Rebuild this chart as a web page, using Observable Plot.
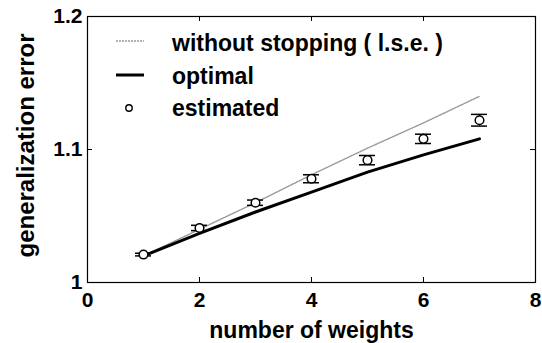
<!DOCTYPE html>
<html><head><meta charset="utf-8">
<script src="https://cdn.jsdelivr.net/npm/d3@7"></script>
<script src="https://cdn.jsdelivr.net/npm/@observablehq/plot@0.6"></script>
<style>body{margin:0;background:#fff}</style>
</head><body><div id="chart"></div>
<script>
const weights = [1, 2, 3, 4, 5, 6, 7];
const withoutStopping = [1.020, 1.040, 1.060, 1.081, 1.101, 1.120, 1.140];
const optimal = [1.020, 1.037, 1.053, 1.068, 1.083, 1.096, 1.108];
const estimated = [1.021, 1.041, 1.060, 1.078, 1.092, 1.108, 1.122];
const estimatedErr = [0.001, 0.002, 0.002, 0.003, 0.0035, 0.0035, 0.0044];
const xTicks = [0, 2, 4, 6, 8];
const yTicks = [1, 1.1, 1.2];
const yTickLabels = ["1", "1.1", "1.2"];
const seriesNames = ["without stopping ( l.s.e. )", "optimal", "estimated"];
const xLabel = "number of weights";
const yLabel = "generalization error";

const rows = weights.map((w, i) => ({
  w, ws: withoutStopping[i], opt: optimal[i], est: estimated[i],
  lo: estimated[i] - estimatedErr[i], hi: estimated[i] + estimatedErr[i]
}));

const GRAY = "#9a9a9a";
const innerTicksX = xTicks.filter(t => t > 0 && t < 8);
const innerTicksY = yTicks.filter(t => t > 1 && t < 1.2);

function legendMark(index, scales, values, dims) {
  const g = d3.create("svg:g");
  const L = dims.marginLeft, T = dims.marginTop;
  const rowsY = [27, 60, 92];
  g.append("line").attr("x1", L + 29).attr("x2", L + 57).attr("y1", T + 25).attr("y2", T + 25)
    .attr("stroke", GRAY).attr("stroke-width", 1.6).attr("stroke-dasharray", "2,1");
  g.append("line").attr("x1", L + 29).attr("x2", L + 57).attr("y1", T + 59).attr("y2", T + 59)
    .attr("stroke", "black").attr("stroke-width", 3);
  g.append("circle").attr("cx", L + 42).attr("cy", T + 92).attr("r", 3.2)
    .attr("fill", "white").attr("stroke", "black").attr("stroke-width", 1.4);
  seriesNames.forEach((name, i) => {
    g.append("text").attr("x", L + 85).attr("y", T + rowsY[i] + 8)
      .attr("text-anchor", "start")
      .attr("font-size", 23).attr("font-weight", "bold").attr("fill", "black").text(name);
  });
  return g.node();
}

const chart = Plot.plot({
  width: 542,
  height: 343,
  marginLeft: 87,
  marginRight: 7,
  marginTop: 16,
  marginBottom: 61,
  style: {fontFamily: "'Liberation Sans', Arial, Helvetica, sans-serif", fontWeight: "bold", fontSize: "21px", background: "white", color: "black"},
  x: {domain: [0, 8]},
  y: {domain: [1, 1.2]},
  marks: [
    Plot.frame({stroke: "black", strokeWidth: 1.2}),
    Plot.ruleX(innerTicksX, {x: d => d, insetTop: 261, stroke: "black", strokeWidth: 1}),
    Plot.ruleX(innerTicksX, {x: d => d, insetBottom: 261, stroke: "black", strokeWidth: 1}),
    Plot.ruleY(innerTicksY, {y: d => d, insetRight: 443, stroke: "black", strokeWidth: 1}),
    Plot.ruleY(innerTicksY, {y: d => d, insetLeft: 443, stroke: "black", strokeWidth: 1}),
    Plot.axisX(xTicks, {tickSize: 0, tickPadding: 10, fontSize: 21, label: null, tickFormat: d => String(d)}),
    Plot.axisY(yTicks, {tickSize: 0, tickPadding: 5, fontSize: 21, label: null, tickFormat: d => yTickLabels[yTicks.indexOf(d)]}),
    Plot.text([xLabel], {frameAnchor: "bottom", dy: 55, lineAnchor: "bottom", textAnchor: "middle", fontSize: 23, fontWeight: "bold"}),
    Plot.text([yLabel], {frameAnchor: "left", dx: -54, dy: -4, rotate: -90, lineAnchor: "bottom", textAnchor: "middle", fontSize: 24, fontWeight: "bold"}),
    Plot.line(rows, {x: "w", y: "ws", stroke: GRAY, strokeWidth: 1.4, strokeDasharray: "1.5,1"}),
    Plot.line(rows, {x: "w", y: "opt", stroke: "black", strokeWidth: 3}),
    Plot.ruleX(rows, {x: "w", y1: "lo", y2: "hi", stroke: "black", strokeWidth: 1.3}),
    Plot.ruleY(rows, {y: "lo", x1: "w", x2: "w", insetLeft: -8, insetRight: -8, stroke: "black", strokeWidth: 1.5}),
    Plot.ruleY(rows, {y: "hi", x1: "w", x2: "w", insetLeft: -8, insetRight: -8, stroke: "black", strokeWidth: 1.5}),
    Plot.dot(rows, {x: "w", y: "est", r: 4.3, fill: "white", stroke: "black", strokeWidth: 1.5}),
    legendMark
  ]
});
document.getElementById("chart").appendChild(chart);
</script>
</body></html>
